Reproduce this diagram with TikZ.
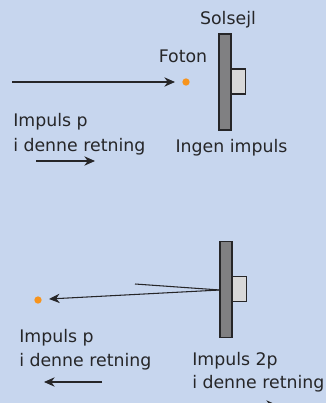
\documentclass[tikz,border=0pt]{standalone}
\usepackage{fontspec}
\setmainfont{DejaVu Sans}
\usetikzlibrary{arrows.meta}
\definecolor{bgblue}{RGB}{199,214,238}
\definecolor{sailgray}{RGB}{128,128,130}
\definecolor{padgray}{RGB}{216,216,216}
\definecolor{edge}{RGB}{38,38,40}
\definecolor{photon}{RGB}{247,148,29}
\tikzset{
  sail/.style={draw=edge, line width=1pt, fill=sailgray, minimum width=9pt, minimum height=72pt, inner sep=0pt},
  pad/.style={draw=edge, line width=1pt, fill=padgray, minimum width=11pt, minimum height=18.5pt, inner sep=0pt},
  dot/.style={circle, fill=photon, minimum size=5.5pt, inner sep=0pt},
  ray/.style={draw=edge, line width=0.8pt},
  arr/.style={ray, -{Stealth[length=8pt,width=7pt]}},
  lbl/.style={inner sep=0pt, text=edge, font=\fontsize{13}{15}\selectfont},
}
\begin{document}
\begin{tikzpicture}[x=0.75pt,y=-0.75pt]
  \fill[bgblue] (0,0) rectangle (326,403);
  \useasboundingbox (0,0) rectangle (326,403);
  \clip (0,0) rectangle (326,403);

  % incoming photon
  \node[pad]  (padA)  at (238.3,81.5) {};
  \node[sail] (sailA) at (225,82) {};
  \node[dot]  (photA) at (186,82) {};
  \coordinate (srcA) at (12,82);
  \coordinate (tipA) at (175,82);
  \draw[arr] (srcA) -- (tipA);
  \node[lbl, anchor=base] (solsejl) at (228,25) {Solsejl};
  \node[lbl, anchor=base] (foton) at (183,63) {Foton};
  \node[lbl, anchor=base] (ingen) at (231.5,152) {Ingen impuls};
  \node[lbl, anchor=base west] (impA1) at (13,126) {Impuls p};
  \node[lbl, anchor=base west] (impA2) at (13,151) {i denne retning};
  \coordinate (dirA1) at (36,161);
  \coordinate (dirA2) at (95,161);
  \draw[arr] (dirA1) -- (dirA2);

  % reflected photon
  \node[pad]  (padB)  at (239.3,289) {};
  \node[sail] (sailB) at (226,289.5) {};
  \node[dot]  (photB) at (38,300) {};
  \coordinate (hit) at (220,290);
  \coordinate (inB) at (135,284);
  \coordinate (outB) at (49,299);
  \draw[ray] (inB) -- (hit);
  \draw[arr] (hit) -- (outB);
  \node[lbl, anchor=base west] (impB1) at (19,342.5) {Impuls p};
  \node[lbl, anchor=base west] (impB2) at (19,366.5) {i denne retning};
  \coordinate (dirB1) at (102,382);
  \coordinate (dirB2) at (44,382);
  \draw[arr] (dirB1) -- (dirB2);
  \node[lbl, anchor=base west] (impC1) at (192,365) {Impuls 2p};
  \node[lbl, anchor=base west] (impC2) at (192,388) {i denne retning};
  \coordinate (dirC1) at (215,405);
  \coordinate (dirC2) at (277,405);
  \draw[arr] (dirC1) -- (dirC2);
\end{tikzpicture}
\end{document}
